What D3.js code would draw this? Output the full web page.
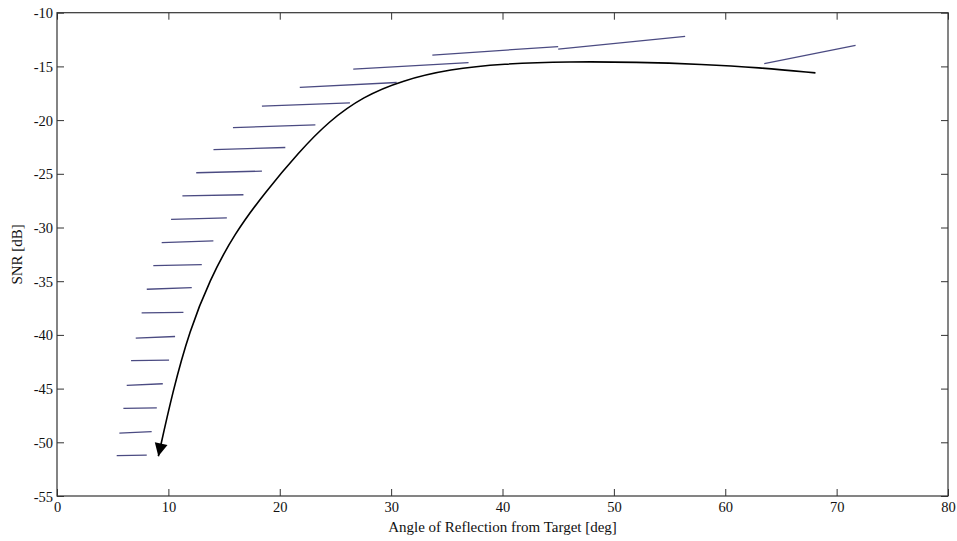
<!DOCTYPE html>
<html>
<head>
<meta charset="utf-8">
<script src="https://cdn.jsdelivr.net/npm/d3@7"></script>
<style>
  html, body { margin: 0; padding: 0; background: #fff; }
  svg text { font-family: "Liberation Serif", "DejaVu Serif", serif; fill: #111; }
</style>
</head>
<body>
<svg id="chart" width="957" height="541"></svg>
<script>
// Axis ranges and tick values
const xDomain = [0, 80];
const yDomain = [-55, -10];
const xTicks = [0, 10, 20, 30, 40, 50, 60, 70, 80];
const yTicks = [-55, -50, -45, -40, -35, -30, -25, -20, -15, -10];

// SNR trend curve: angle [deg] and SNR [dB]
const curveAngle = [9.1, 10.4, 11.9, 13.7, 15.9, 18.7, 21.7, 24.4, 27.5, 31.0, 35.3, 40, 46, 52, 58, 63, 68.1];
const curveSNR   = [-51.3, -45.2, -39.6, -34.9, -30.6, -26.7, -23.0, -20.1, -17.8, -16.3, -15.25, -14.75, -14.55, -14.6, -14.8, -15.1, -15.6];

// Short measurement traces: start/end angle and start/end SNR
const traceStartAngle = [5.36, 5.6, 5.96, 6.26, 6.65, 7.07, 7.6, 8.06, 8.65, 9.4, 10.24, 11.26, 12.5, 14.05, 15.8, 18.4, 21.8, 26.6, 33.7, 45.0, 63.5];
const traceEndAngle   = [8.06, 8.5, 8.96, 9.5, 10.06, 10.6, 11.35, 12.1, 13.0, 14.04, 15.25, 16.74, 18.4, 20.5, 23.2, 26.3, 30.5, 36.95, 45.0, 56.4, 71.7];
const traceStartSNR   = [-51.25, -49.15, -46.85, -44.7, -42.4, -40.3, -37.95, -35.75, -33.55, -31.4, -29.25, -27.05, -24.9, -22.75, -20.7, -18.7, -16.95, -15.25, -13.95, -13.4, -14.75];
const traceEndSNR     = [-51.2, -49.0, -46.8, -44.55, -42.35, -40.15, -37.9, -35.6, -33.45, -31.25, -29.1, -26.95, -24.75, -22.55, -20.45, -18.4, -16.5, -14.65, -13.15, -12.2, -13.05];

const xLabel = "Angle of Reflection from Target [deg]";
const yLabel = "SNR [dB]";

const margin = { left: 57, top: 12.7, right: 957 - 948, bottom: 541 - 496 };
const W = 957, H = 541;
const svg = d3.select("#chart");

const x = d3.scaleLinear().domain(xDomain).range([margin.left, W - margin.right]);
const y = d3.scaleLinear().domain(yDomain).range([H - margin.bottom, margin.top]);

const axisColor = "#333";
const tickLen = 7;

// Arrowhead for the start of the trend curve
svg.append("defs").append("marker")
  .attr("id", "arrow")
  .attr("viewBox", "-14 -7 15 14")
  .attr("refX", 0).attr("refY", 0)
  .attr("markerWidth", 15).attr("markerHeight", 14)
  .attr("markerUnits", "userSpaceOnUse")
  .attr("orient", "auto-start-reverse")
  .append("path")
  .attr("d", "M0,0 L-13,-6.5 L-13,6.5 Z")
  .attr("fill", "#000");

// Measurement traces
const traces = traceStartAngle.map((a, i) => [
  [a, traceStartSNR[i]],
  [traceEndAngle[i], traceEndSNR[i]]
]);
const traceLine = d3.line().x(d => x(d[0])).y(d => y(d[1]));
svg.append("g")
  .selectAll("path")
  .data(traces)
  .join("path")
  .attr("d", traceLine)
  .attr("fill", "none")
  .attr("stroke", "#4b4b82")
  .attr("stroke-width", 1.3);

// Trend curve
const curveData = curveAngle.map((a, i) => [a, curveSNR[i]]);
svg.append("path")
  .datum(curveData)
  .attr("d", d3.line().x(d => x(d[0])).y(d => y(d[1])).curve(d3.curveBasis))
  .attr("fill", "none")
  .attr("stroke", "#000")
  .attr("stroke-width", 1.6)
  .attr("marker-start", "url(#arrow)");

// Axes box with inward ticks on all four sides
const bottomAxis = d3.axisBottom(x).tickValues(xTicks).tickSize(tickLen).tickFormat(d3.format("d"));
const topAxis = d3.axisTop(x).tickValues(xTicks).tickSize(tickLen).tickFormat("");
const leftAxis = d3.axisLeft(y).tickValues(yTicks).tickSize(tickLen).tickFormat(d => d3.format("d")(d).replace("−", "-"));
const rightAxis = d3.axisRight(y).tickValues(yTicks).tickSize(tickLen).tickFormat("");

function style(g) {
  g.select(".domain").remove();
  g.selectAll(".tick line").attr("stroke", axisColor).attr("stroke-width", 1);
  g.selectAll("text")
    .attr("fill", "#111")
    .style("font-family", '"Liberation Serif", serif')
    .style("font-size", "14.5px");
}

const gB = svg.append("g").attr("transform", `translate(0,${y(yDomain[0])})`).call(bottomAxis);
gB.selectAll(".tick line").attr("y2", -tickLen);
gB.selectAll(".tick text").attr("y", 6).attr("dy", "0.71em");
style(gB);

const gT = svg.append("g").attr("transform", `translate(0,${y(yDomain[1])})`).call(topAxis);
gT.selectAll(".tick line").attr("y2", tickLen);
style(gT);

const gL = svg.append("g").attr("transform", `translate(${x(xDomain[0])},0)`).call(leftAxis);
gL.selectAll(".tick line").attr("x2", tickLen);
gL.selectAll(".tick text").attr("x", -4).attr("dy", "0.35em");
style(gL);

const gR = svg.append("g").attr("transform", `translate(${x(xDomain[1])},0)`).call(rightAxis);
gR.selectAll(".tick line").attr("x2", -tickLen);
style(gR);

svg.append("rect")
  .attr("x", x(xDomain[0])).attr("y", y(yDomain[1]))
  .attr("width", x(xDomain[1]) - x(xDomain[0]))
  .attr("height", y(yDomain[0]) - y(yDomain[1]))
  .attr("fill", "none").attr("stroke", axisColor).attr("stroke-width", 1.2);

// Axis titles
svg.append("text")
  .attr("x", (x(xDomain[0]) + x(xDomain[1])) / 2)
  .attr("y", 532)
  .attr("text-anchor", "middle")
  .style("font-size", "15px")
  .text(xLabel);

svg.append("text")
  .attr("transform", `translate(22,${(y(yDomain[0]) + y(yDomain[1])) / 2}) rotate(-90)`)
  .attr("text-anchor", "middle")
  .style("font-size", "15px")
  .text(yLabel);
</script>
</body>
</html>
